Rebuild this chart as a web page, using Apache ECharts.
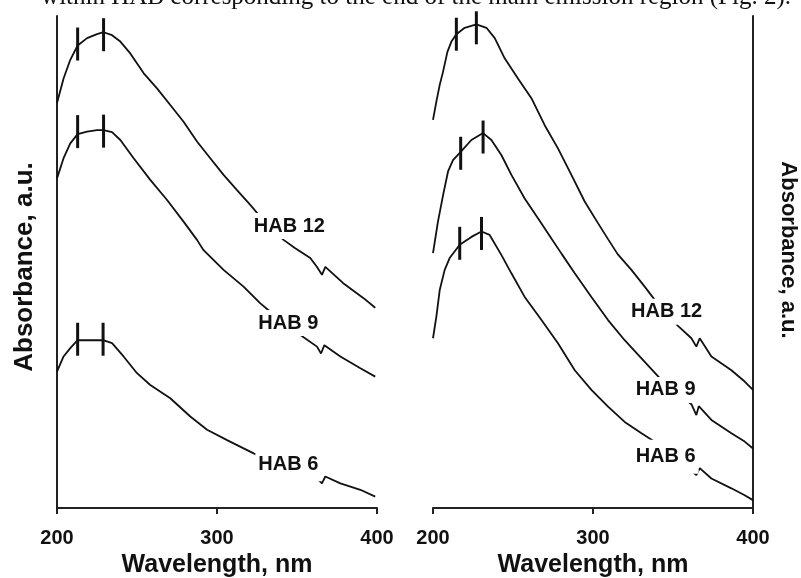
<!DOCTYPE html>
<html>
<head>
<meta charset="utf-8">
<script src="https://cdn.jsdelivr.net/npm/echarts@6/dist/echarts.min.js"></script>
<style>
  html, body { margin: 0; padding: 0; background: #fff; }
  #main { width: 801px; height: 578px; }
</style>
</head>
<body>
<div id="main"></div>
<script>
// spectra: [wavelength nm, absorbance a.u.]
const left12 = [[200, 82.3], [204.1, 87.3], [208.3, 91.1], [212.9, 94.0], [218.8, 95.5], [225, 96.3], [229.1, 96.7], [234.4, 96.1], [239.6, 94.8], [245.8, 92.4], [254.1, 88.4], [262.5, 85.3], [270.8, 81.9], [279.1, 78.5], [287.5, 74.5], [295.8, 71.1], [304.1, 67.7], [312.5, 64.6], [320.8, 61.6], [326, 59.6], [341.6, 54.5], [348.9, 52.8], [358.3, 50.8], [362.5, 49.0], [365.6, 47.4], [367.7, 49.0], [378.9, 45.7], [391.4, 42.7], [398.9, 40.7]]
const left9 = [[200, 67.0], [204.1, 71.1], [208.3, 74.1], [212.9, 76.0], [218.8, 76.5], [225, 76.8], [229.1, 76.8], [234.4, 76.4], [239.6, 74.8], [247.9, 71.1], [258.3, 66.7], [268.8, 62.6], [279.1, 58.2], [287.5, 54.5], [291.6, 52.4], [304.1, 48.4], [316.6, 45.0], [327.1, 41.6], [333.3, 39.9], [354.1, 34.7], [362.5, 32.8], [365, 31.4], [367.1, 33.1], [377.1, 30.8], [389.6, 28.4], [398.9, 26.7]]
const left6 = [[200, 27.7], [204.1, 30.8], [208.3, 32.5], [212.9, 34.1], [228.8, 34.1], [234.4, 33.5], [241.6, 30.8], [250, 27.4], [258.3, 25.0], [270.8, 22.3], [283.3, 18.6], [293.8, 15.9], [306.3, 13.8], [322.9, 11.1], [363.5, 5.7], [365.6, 5.0], [367.7, 6.4], [377.1, 5.0], [389.6, 3.7], [398.9, 2.3]]

const right12 = [[200, 78.9], [202.1, 82.6], [204.2, 86.0], [206.3, 88.7], [209, 92.7], [211.5, 94.8], [214.6, 96.3], [219.8, 97.6], [227.1, 98.3], [233.4, 97.6], [238.6, 95.5], [244.8, 91.4], [253.1, 87.3], [261.5, 83.3], [269.8, 77.8], [278.1, 73.1], [286.5, 67.7], [294.8, 62.3], [303.1, 57.9], [309.5, 54.6], [315.4, 51.6], [324, 48.4], [332.3, 45.0], [338.6, 42.3], [353.1, 37.0], [361.5, 34.5], [364.6, 32.8], [366.7, 34.5], [374, 30.8], [386.5, 28.0], [394.8, 25.7], [400, 24.0]]
const right9 = [[200, 51.8], [203.1, 58.2], [206.3, 63.6], [209.4, 68.4], [212.5, 70.7], [217.3, 72.4], [224, 74.8], [231.3, 76.2], [236.5, 74.8], [242.8, 71.7], [249, 67.7], [257.3, 62.9], [265.6, 58.9], [274, 54.8], [280.5, 51.6], [288.6, 47.7], [299, 42.9], [309.4, 38.2], [319.8, 34.1], [330.3, 30.4], [341.7, 26.4], [361.5, 21.1], [364.6, 18.9], [366.1, 20.7], [374, 17.9], [386.5, 15.2], [394.8, 13.5], [400, 12.1]]
const right6 = [[200, 34.5], [202.1, 38.9], [204.2, 44.3], [207.3, 48.4], [210.4, 50.8], [216.7, 53.5], [224, 55.1], [230.3, 56.2], [235.4, 55.5], [242.8, 51.4], [249, 47.7], [257.3, 42.9], [267.8, 38.2], [278.1, 33.5], [288.6, 28.0], [299, 24.0], [309.4, 20.6], [319.8, 17.5], [330.3, 15.2], [341.7, 12.8], [364.6, 6.7], [366.7, 8.1], [374, 6.0], [386.5, 4.0], [394.8, 2.6], [400, 1.6]]

// band position markers (short vertical bars)
const leftMarks = [[212.9, 94.3], [229.1, 96.2], [212.9, 76.5], [229.1, 76.6], [212.9, 34.3], [228.8, 34.3]]
const rightMarks = [[214.6, 96.3], [227.1, 97.6], [217.3, 72.1], [231.3, 75.4], [216.7, 53.8], [230.3, 55.8]]

// curve labels
const leftLabels = [[345.2, 57.3, 'HAB 12'], [344.6, 37.6, 'HAB 9'], [344.6, 8.9, 'HAB 6']]
const rightLabels = [[346, 39.9, 'HAB 12'], [345.4, 24, 'HAB 9'], [345.4, 10.4, 'HAB 6']]

const xTicks = [200, 300, 400]

const chart = echarts.init(document.getElementById('main'))
const font = 'Liberation Sans, Arial, sans-serif'
const ink = '#111'
const axisInk = '#222'

function xAxisFor (idx) {
  return {
    gridIndex: idx,
    type: 'value',
    min: xTicks[0],
    max: xTicks[xTicks.length - 1],
    interval: xTicks[1] - xTicks[0],
    name: 'Wavelength, nm',
    nameLocation: 'middle',
    nameGap: 42,
    nameTextStyle: { fontFamily: font, fontSize: 25, fontWeight: 'bold', color: ink },
    axisLine: { show: true, onZero: false, lineStyle: { color: axisInk, width: 2 } },
    axisTick: { show: true, inside: false, length: 6, lineStyle: { color: axisInk, width: 2 } },
    axisLabel: { margin: 20, fontFamily: font, fontSize: 20, fontWeight: 'bold', color: ink },
    splitLine: { show: false }
  }
}

function yAxisFor (idx, pos, rot, size, gap, pad) {
  return {
    gridIndex: idx,
    type: 'value',
    position: pos,
    min: 0,
    max: 100,
    name: 'Absorbance, a.u.',
    nameLocation: 'middle',
    nameRotate: rot,
    nameGap: gap,
    nameTextStyle: { fontFamily: font, fontSize: size, fontWeight: 'bold', color: ink, padding: pad },
    axisLine: { show: true, onZero: false, lineStyle: { color: axisInk, width: 2 } },
    axisTick: { show: false },
    axisLabel: { show: false },
    splitLine: { show: false }
  }
}

function curve (data, idx) {
  return {
    type: 'line',
    xAxisIndex: idx,
    yAxisIndex: idx,
    data: data,
    showSymbol: false,
    smooth: false,
    lineStyle: { color: ink, width: 1.8 },
    z: 2
  }
}

function marks (data, idx) {
  return {
    type: 'scatter',
    xAxisIndex: idx,
    yAxisIndex: idx,
    data: data,
    symbol: 'rect',
    symbolSize: [3, 33],
    itemStyle: { color: ink, opacity: 1 },
    z: 3
  }
}

function labels (data, idx) {
  return {
    type: 'scatter',
    xAxisIndex: idx,
    yAxisIndex: idx,
    // the lowest label hides a bit more of its curve below the text
    data: data.map(d => d[2] === 'HAB 6'
      ? { value: d, label: { padding: [2, 3, 12, 3] } }
      : { value: d }),
    symbolSize: 1,
    itemStyle: { color: '#fff', opacity: 1 },
    label: {
      show: true,
      position: 'inside',
      formatter: p => p.value[2],
      fontFamily: font,
      fontSize: 20,
      fontWeight: 'bold',
      color: ink,
      opacity: 1,
      backgroundColor: '#fff',
      padding: [2, 3, 4, 3]
    },
    z: 10
  }
}

chart.setOption({
  backgroundColor: '#fff',
  animation: false,
  grid: [
    { left: 57, top: 16, width: 320, height: 492, containLabel: false, outerBoundsMode: 'none' },
    { left: 433, top: 16, width: 320, height: 492, containLabel: false, outerBoundsMode: 'none' }
  ],
  xAxis: [xAxisFor(0), xAxisFor(1)],
  yAxis: [yAxisFor(0, 'left', 90, 26, 19, [0, 10, 0, 0]), yAxisFor(1, 'right', -90, 22, 24, [0, 24, 0, 0])],
  graphic: [
    {
      type: 'text',
      right: 10,
      top: -15,
      style: {
        text: 'within HAB corresponding to the end of the main emission region (Fig. 2).',
        font: '25px "Liberation Serif", "DejaVu Serif", serif',
        fill: ink
      }
    }
  ],
  series: [
    curve(left12, 0), curve(left9, 0), curve(left6, 0),
    curve(right12, 1), curve(right9, 1), curve(right6, 1),
    marks(leftMarks, 0), marks(rightMarks, 1),
    labels(leftLabels, 0), labels(rightLabels, 1)
  ]
})
</script>
</body>
</html>
